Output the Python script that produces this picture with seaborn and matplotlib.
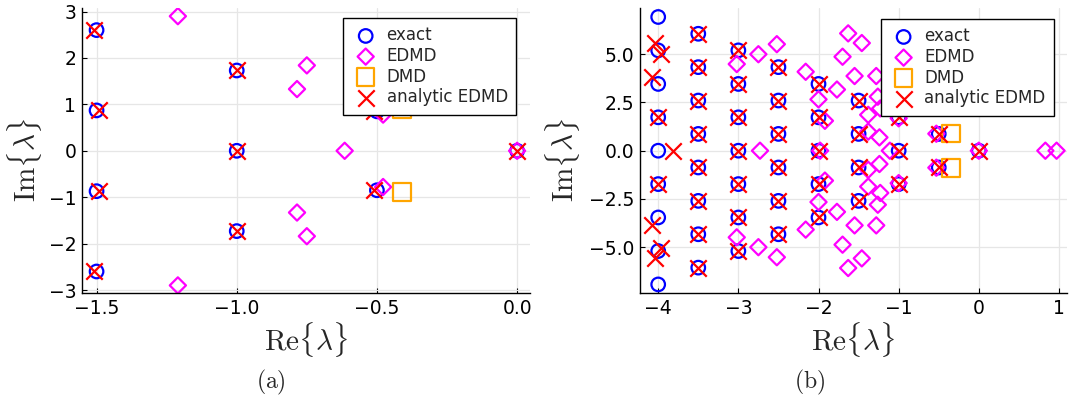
import numpy as np
import pandas as pd
import matplotlib
matplotlib.use("Agg")
import matplotlib.pyplot as plt
import seaborn as sns

# ---------------- data: panel (a) ----------------
exact_a_re = [-1.5, -1.5, -1.5, -1.5, -1.0, -1.0, -1.0, -0.5, -0.5, 0.0]
exact_a_im = [2.6, 0.87, -0.87, -2.6, 1.73, 0.0, -1.73, 0.85, -0.85, 0.0]

edmd_a_re = [-1.21, -1.21, -0.75, -0.75, -0.785, -0.785, -0.615, -0.478, -0.478, 0.0]
edmd_a_im = [2.9, -2.9, 1.84, -1.84, 1.33, -1.33, 0.0, 0.78, -0.78, 0.0]

dmd_a_re = [-0.41, -0.41]
dmd_a_im = [0.89, -0.89]

analytic_a_re = [-1.51, -1.49, -1.49, -1.51, -1.0, -1.0, -1.0, -0.51, -0.51, 0.0]
analytic_a_im = [2.6, 0.87, -0.87, -2.6, 1.73, 0.0, -1.73, 0.85, -0.85, 0.0]

# ---------------- data: panel (b) ----------------
exact_b_re = [-4.0] * 9 + [-3.5] * 8 + [-3.0] * 7 + [-2.5] * 6 + [-2.0] * 5 + \
             [-1.5] * 4 + [-1.0] * 3 + [-0.5] * 2 + [0.0]
exact_b_im = [6.93, 5.2, 3.46, 1.73, 0.0, -1.73, -3.46, -5.2, -6.93,
              6.06, 4.33, 2.6, 0.87, -0.87, -2.6, -4.33, -6.06,
              5.2, 3.46, 1.73, 0.0, -1.73, -3.46, -5.2,
              4.33, 2.6, 0.87, -0.87, -2.6, -4.33,
              3.46, 1.73, 0.0, -1.73, -3.46,
              2.6, 0.87, -0.87, -2.6,
              1.73, 0.0, -1.73,
              0.87, -0.87,
              0.0]

edmd_b_re = [-3.02, -3.02, -2.75, -2.75, -2.73, -2.52, -2.52, -2.16, -2.16,
             -2.0, -2.0, -1.92, -1.92, -1.98, -1.63, -1.63, -1.46, -1.46,
             -1.70, -1.70, -1.55, -1.55, -1.28, -1.28, -1.77, -1.77,
             -1.26, -1.26, -1.23, -1.23, -1.38, -1.38, -1.38, -1.38,
             -1.24, -1.24, -1.11, -1.0, -1.0, -0.53, -0.53, 0.0, 0.83, 0.97]
edmd_b_im = [4.49, -4.49, 5.0, -5.0, 0.0, 5.52, -5.52, 4.09, -4.09,
             2.66, -2.66, 1.55, -1.55, 0.0, 6.08, -6.08, 5.58, -5.58,
             4.87, -4.87, 3.87, -3.87, 3.87, -3.87, 3.17, -3.17,
             2.8, -2.8, 2.19, -2.19, 1.86, -1.86, 0.99, -0.99,
             0.69, -0.69, 0.0, 1.68, -1.68, 0.88, -0.88, 0.0, 0.0, 0.0]

dmd_b_re = [-0.35, -0.35]
dmd_b_im = [0.9, -0.9]

analytic_b_re = [-4.04, -3.96, -4.08, -4.0, -3.81, -4.0, -4.08, -3.96, -4.04] + \
                [-3.5] * 8 + [-3.0] * 7 + [-2.5] * 6 + [-2.0] * 5 + \
                [-1.5] * 4 + [-1.0] * 3 + [-0.5] * 2 + [0.0]
analytic_b_im = [5.6, 5.03, 3.8, 1.73, 0.0, -1.73, -3.83, -5.05, -5.58,
                 6.06, 4.33, 2.6, 0.87, -0.87, -2.6, -4.33, -6.06,
                 5.2, 3.46, 1.73, 0.0, -1.73, -3.46, -5.2,
                 4.33, 2.6, 0.87, -0.87, -2.6, -4.33,
                 3.46, 1.73, 0.0, -1.73, -3.46,
                 2.6, 0.87, -0.87, -2.6,
                 1.73, 0.0, -1.73,
                 0.87, -0.87,
                 0.0]

series_labels = ["exact", "EDMD", "DMD", "analytic EDMD"]

xticks_a = [-1.5, -1.0, -0.5, 0.0]
xticklabels_a = ["\u22121.5", "\u22121.0", "\u22120.5", "0.0"]
yticks_a = [-3, -2, -1, 0, 1, 2, 3]
yticklabels_a = ["\u22123", "\u22122", "\u22121", "0", "1", "2", "3"]

xticks_b = [-4, -3, -2, -1, 0, 1]
xticklabels_b = ["\u22124", "\u22123", "\u22122", "\u22121", "0", "1"]
yticks_b = [-5.0, -2.5, 0.0, 2.5, 5.0]
yticklabels_b = ["\u22125.0", "\u22122.5", "0.0", "2.5", "5.0"]

# ---------------- style ----------------
sns.set_theme(style="white")
plt.rcParams["font.family"] = ["DejaVu Sans"]
plt.rcParams["mathtext.fontset"] = "cm"
plt.rcParams["axes.unicode_minus"] = True

W, H = 1070, 401
fig = plt.figure(figsize=(W / 100, H / 100), dpi=100)

def px_rect(x0, x1, y0, y1):
    return [x0 / W, 1 - y1 / H, (x1 - x0) / W, (y1 - y0) / H]

ax_a = fig.add_axes(px_rect(81.7, 530, 8.3, 293.3))
ax_b = fig.add_axes(px_rect(640, 1067, 8.3, 293.3))

styles = {
    "exact": dict(marker="o", s=95, facecolors="none", edgecolors="blue", linewidths=1.6),
    "EDMD": dict(marker="D", s=68, facecolors="none", edgecolors="magenta", linewidths=1.6),
    "DMD": dict(marker="s", s=160, facecolors="none", edgecolors="orange", linewidths=1.6),
    "analytic EDMD": dict(marker="x", s=140, color="red", linewidths=1.6),
}

def draw(ax, data):
    for lab in series_labels:
        re, im = data[lab]
        df = pd.DataFrame({"re": re, "im": im})
        sns.scatterplot(data=df, x="re", y="im", ax=ax, label=lab, **styles[lab])

draw(ax_a, {"exact": (exact_a_re, exact_a_im), "EDMD": (edmd_a_re, edmd_a_im),
            "DMD": (dmd_a_re, dmd_a_im), "analytic EDMD": (analytic_a_re, analytic_a_im)})
draw(ax_b, {"exact": (exact_b_re, exact_b_im), "EDMD": (edmd_b_re, edmd_b_im),
            "DMD": (dmd_b_re, dmd_b_im), "analytic EDMD": (analytic_b_re, analytic_b_im)})

def style_axes(ax, xlim, ylim, xt, xtl, yt, ytl, leg_anchor, ylab_x):
    ax.set_xlim(*xlim)
    ax.set_ylim(*ylim)
    ax.set_xticks(xt)
    ax.set_xticklabels(xtl)
    ax.set_yticks(yt)
    ax.set_yticklabels(ytl)
    ax.grid(True, color="#e6e6e6", linewidth=0.9)
    ax.set_axisbelow(True)
    for s in ["top", "right"]:
        ax.spines[s].set_visible(False)
    for s in ["left", "bottom"]:
        ax.spines[s].set_color("black")
        ax.spines[s].set_linewidth(1.0)
    ax.tick_params(axis="both", direction="in", length=3.5, width=0.8,
                   colors="black", labelsize=13.5, pad=4, left=True, bottom=True)
    ax.set_xlabel(r"$\mathrm{Re}\{\lambda\}$", fontsize=21)
    ax.set_ylabel(r"$\mathrm{Im}\{\lambda\}$", fontsize=21)
    ax.xaxis.set_label_coords(0.5, -0.095)
    ax.yaxis.set_label_coords(ylab_x, 0.47)
    leg = ax.legend(loc="upper right", bbox_to_anchor=leg_anchor, fontsize=12,
                    frameon=True, fancybox=False, edgecolor="black",
                    borderpad=0.5, labelspacing=0.16, handlelength=1.7,
                    handletextpad=0.4, borderaxespad=0.0)
    leg.get_frame().set_linewidth(1.0)
    leg.get_frame().set_alpha(1.0)

style_axes(ax_a, (-1.553, 0.046), (-3.07, 3.07), xticks_a, xticklabels_a,
           yticks_a, yticklabels_a, (0.969, 0.966), -0.085)
style_axes(ax_b, (-4.227, 1.10), (-7.39, 7.38), xticks_b, xticklabels_b,
           yticks_b, yticklabels_b, (0.9696, 0.9625), -0.137)

fig.text(271 / W, 1 - 382 / H, r"$\mathrm{(a)}$", ha="center", va="center", fontsize=17)
fig.text(810 / W, 1 - 382 / H, r"$\mathrm{(b)}$", ha="center", va="center", fontsize=17)

fig.savefig("out.png", dpi=100, facecolor="white")
